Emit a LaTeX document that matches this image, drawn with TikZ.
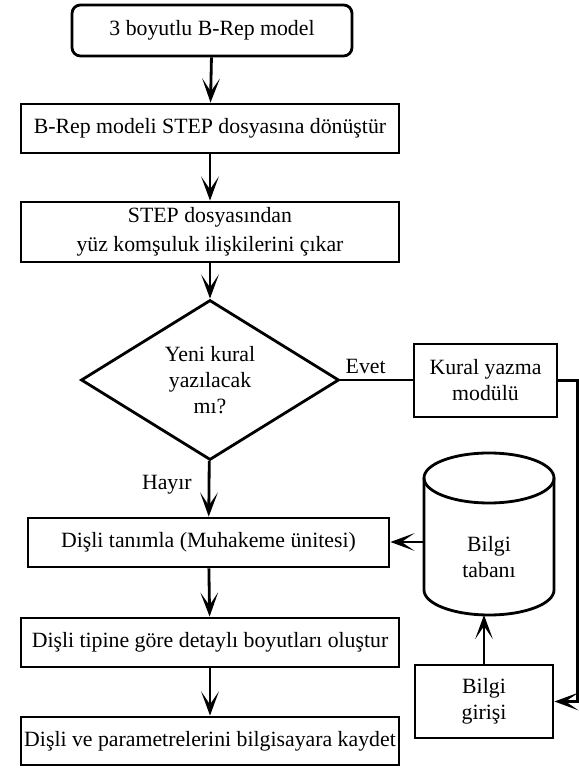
\documentclass[tikz,border=0pt]{standalone}
\usepackage{fontspec}
\setmainfont{Liberation Serif}
\usetikzlibrary{arrows.meta,positioning,shapes.geometric,calc}

\begin{document}
\begin{tikzpicture}[
  surec/.style={draw=black, line width=2pt, minimum width=9.45cm, minimum height=1.225cm, align=center, font=\fontsize{15.5}{18.5}\selectfont, inner sep=2pt},
  yan/.style={draw=black, line width=2pt, minimum width=3.5cm, minimum height=1.825cm, align=center, font=\fontsize{15.5}{18.5}\selectfont},
  etiket/.style={font=\fontsize{15.5}{18.5}\selectfont},
  ok/.style={-{Stealth[length=6mm,width=4.4mm,inset=3.2mm]}, line width=2pt},
  cizgi/.style={line width=2pt}
]
  \useasboundingbox (0,0) rectangle (14.475,19.225);

  % ana akis
  \node[surec, rounded corners=6pt, minimum width=7cm, minimum height=1.275cm] (model) at (5.3,18.4625) {3 boyutlu B-Rep model};
  \node[surec] (donustur) at (5.25,16.0125) {B-Rep modeli STEP dosyasına dönüştür};
  \node[surec, minimum height=1.5cm] (cikar) at (5.25,13.425) {STEP dosyasından\\[2pt]yüz komşuluk ilişkilerini çıkar};
  \node[surec, diamond, aspect=1.6, minimum width=6.45cm, minimum height=4cm, inner sep=1pt] (karar) at (5.25,9.725) {Yeni kural\\yazılacak\\mı?};
  \node[surec, minimum width=9.025cm] (tanim) at (5.2125,5.6625) {Dişli tanımla (Muhakeme ünitesi)};
  \node[surec] (detay) at (5.25,3.1625) {Dişli tipine göre detaylı boyutları oluştur};
  \node[surec, minimum height=1.2cm] (kaydet) at (5.25,0.7) {Dişli ve parametrelerini bilgisayara kaydet};

  \draw[ok] (model) -- (donustur);
  \draw[ok] (donustur) -- (cikar);
  \draw[ok] (cikar) -- (karar);
  \draw[ok] (karar) -- (tanim) node[etiket, pos=0.42, left=8pt] {Hayır};
  \draw[ok] (tanim) -- (detay);
  \draw[ok] (detay) -- (kaydet);

  % yan kollar
  \node[yan, minimum width=3.575cm] (kural) at (12.1375,9.7125) {Kural yazma\\modülü};
  \node[yan, minimum width=3.45cm] (giris) at (12.1,1.6875) {Bilgi\\girişi};
  \node[inner sep=0pt, outer sep=0pt, minimum width=3.25cm, minimum height=4.05cm] (taban) at (12.225,5.875) {};
  \node[etiket, align=center] (tabanyazi) at (12.225,5.3) {Bilgi\\tabanı};
  \draw[cizgi] ([yshift=-0.625cm]taban.north west) -- ([yshift=0.625cm]taban.south west)
    arc[start angle=180, end angle=360, x radius=1.625cm, y radius=0.625cm] -- ([yshift=-0.625cm]taban.north east);
  \draw[cizgi] ([yshift=-0.625cm]taban.north) ellipse[x radius=1.625cm, y radius=0.625cm];

  \draw[cizgi] (karar.east) -- (karar.east -| kural.west) node[etiket, pos=0.35, above] {Evet};
  \draw[ok] (kural.east) -- ++(0.47,0) coordinate (sag) -- (sag |- giris.east) -- (giris.east);
  \draw[ok] (giris.north) -- (giris.north |- taban.south);
  \draw[ok] ([yshift=-0.2cm]taban.west) -- ([yshift=-0.2cm]taban.west -| tanim.east);
\end{tikzpicture}
\end{document}
